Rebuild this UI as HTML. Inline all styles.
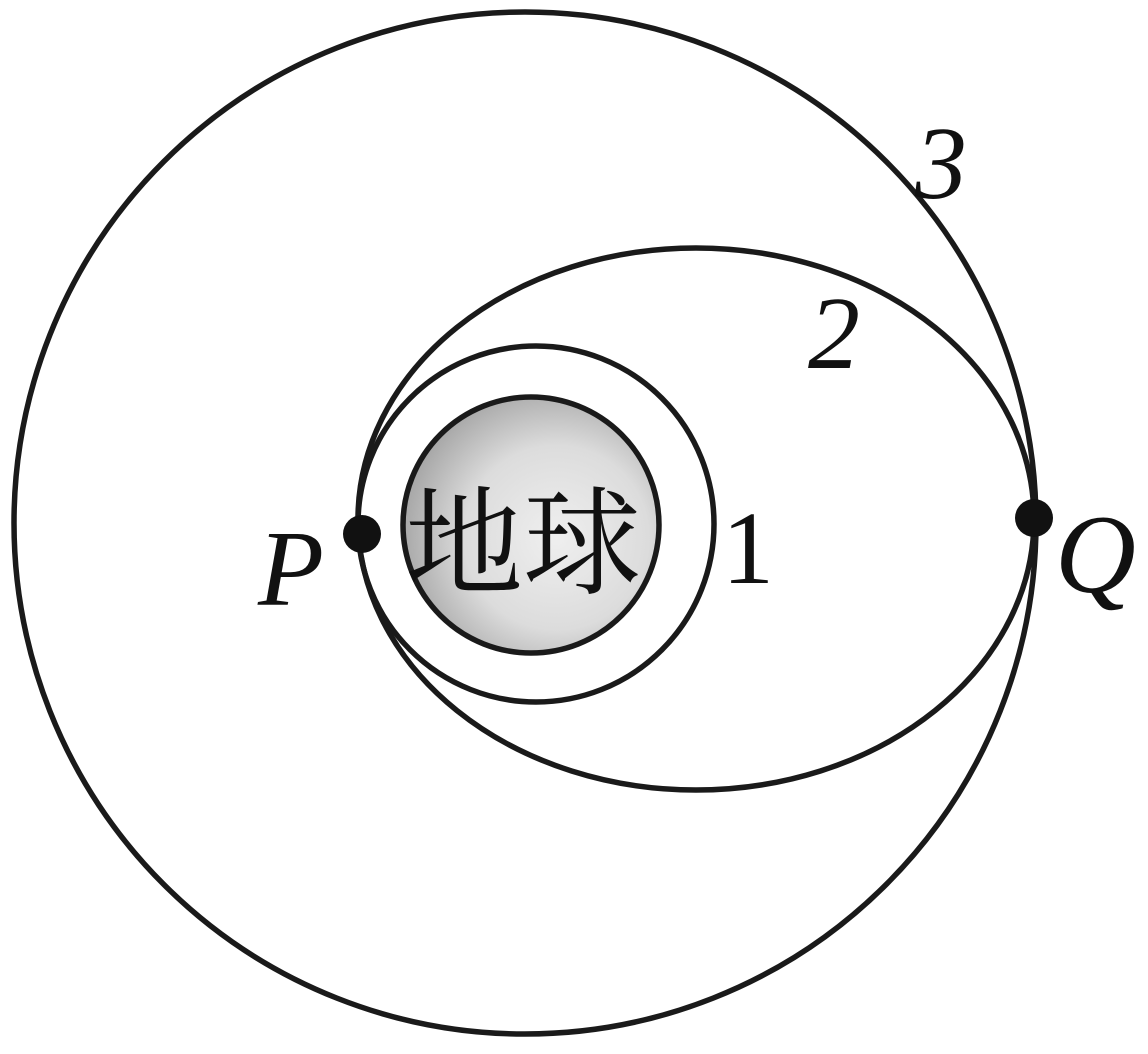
<!DOCTYPE html>
<html><head><meta charset="utf-8"><style>html,body{margin:0;padding:0;background:#fff}</style></head>
<body>
<svg width="1148" height="1049" viewBox="0 0 1148 1049" xmlns="http://www.w3.org/2000/svg">
<defs>
<radialGradient id="g" cx="0.6" cy="0.55" r="0.6">
<stop offset="0" stop-color="#efefef"/>
<stop offset="0.6" stop-color="#dcdcdc"/>
<stop offset="1" stop-color="#a8a8a8"/>
</radialGradient>
</defs>
<g fill="none" stroke="#1a1a1a" stroke-width="5.5">
<circle cx="525" cy="523" r="511"/>
<ellipse cx="696" cy="519" rx="338" ry="271"/>
<circle cx="536" cy="524" r="178"/>
<circle cx="531" cy="525" r="128" fill="url(#g)"/>
</g>
<circle cx="362" cy="534" r="19" fill="#111"/>
<circle cx="1034" cy="518" r="19" fill="#111"/>
<g font-family="Liberation Serif, serif" fill="#111">
<text x="258" y="605" font-size="108" font-style="italic">P</text>
<text x="1055" y="592" font-size="112" font-style="italic">Q</text>
<text x="722" y="583" font-size="104">1</text>
<text x="808" y="368" font-size="104" font-style="italic">2</text>
<text x="915" y="198" font-size="104" font-style="italic">3</text>
<text x="405" y="585" font-size="118" font-family="Noto Serif CJK SC, serif">地球</text>
</g>
</svg>
</body></html>
